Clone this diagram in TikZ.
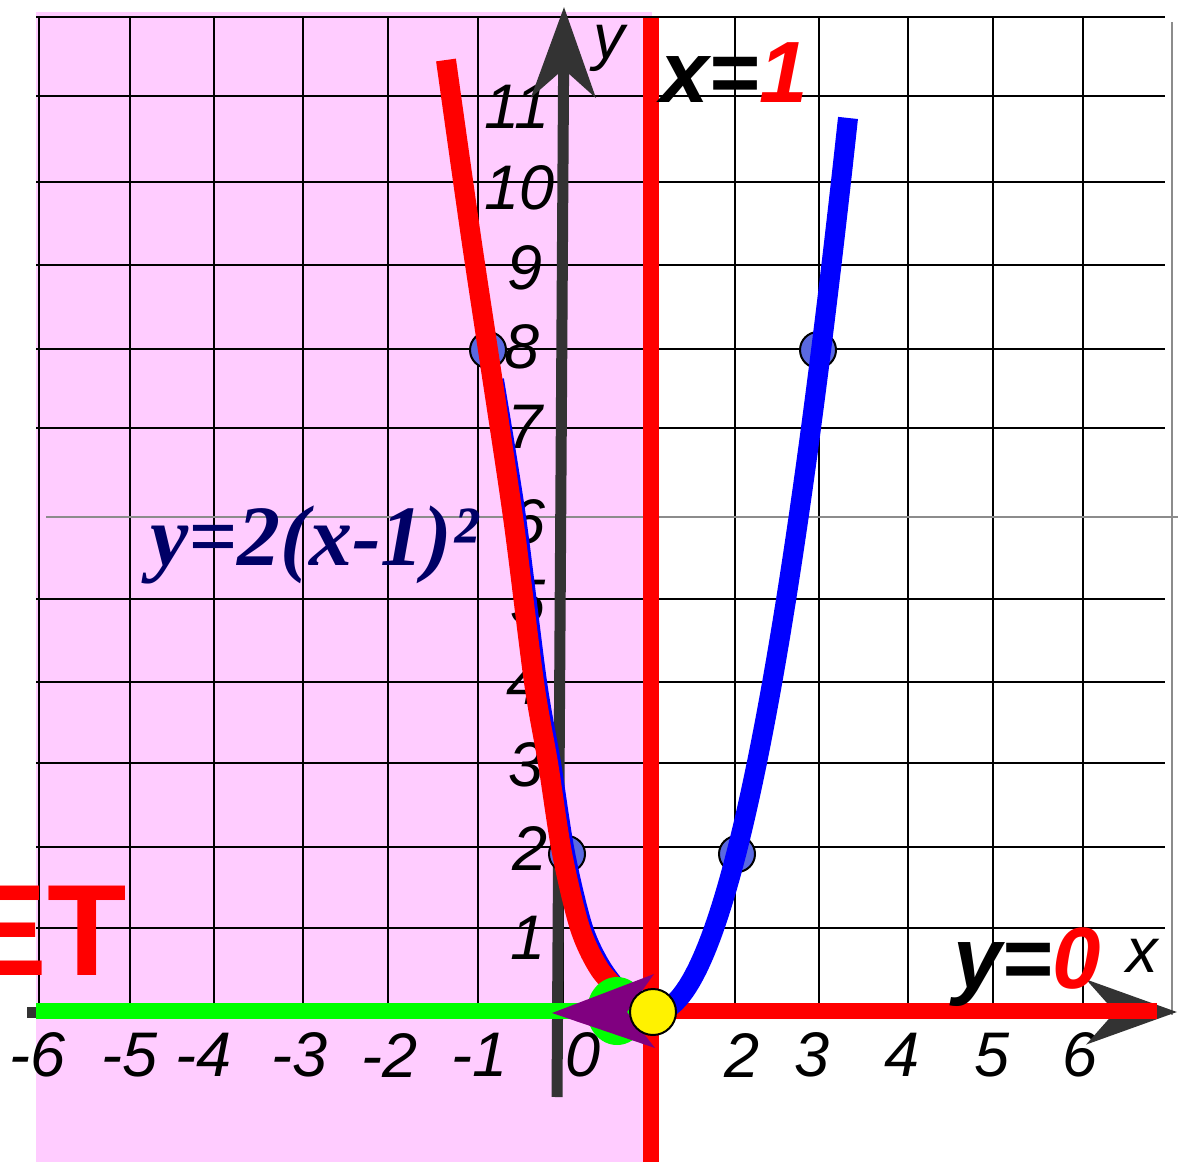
\documentclass[tikz,border=0pt]{standalone}
\usepackage{fontspec}
\setmainfont{Liberation Sans}
\newfontfamily\timesfont{Liberation Serif}
\usetikzlibrary{arrows.meta}
\definecolor{pinkbg}{RGB}{255,204,255}
\definecolor{axisgray}{RGB}{51,51,51}
\definecolor{dotblue}{RGB}{90,105,225}
\definecolor{navy}{RGB}{0,0,102}
\definecolor{faintgray}{RGB}{140,140,140}
\definecolor{plum}{RGB}{128,0,128}
\tikzset{
    gridline/.style={black, line width=2.5pt}, % square grid
    faintline/.style={faintgray, line width=2pt},
    axisline/.style={axisgray, line width=11pt, -{Stealth[length=90pt, width=64pt, inset=28pt]}},
    thickline/.style={line width=16pt},
    curve/.style={line width=20pt},
    ticklabel/.style={inner sep=0pt, font=\fontsize{63}{63}\selectfont\itshape},
    biglabel/.style={inner sep=0pt, font=\fontsize{87}{87}\selectfont\bfseries\itshape},
    ptdot/.style={circle, fill=dotblue, draw=black, line width=2pt, minimum size=36pt, inner sep=0pt},
}

\begin{document}
\begin{tikzpicture}[x=1pt, y=-1pt]
  \useasboundingbox (0,0) rectangle (1178,1162);
  \clip (0,0) rectangle (1178,1162);
  \fill[pinkbg] (36,12) rectangle (652,1162);

  \foreach \gx in {39,130,214,303,388,478,563,650,735,819,908,993,1083}
    \draw[gridline] (\gx,17) -- (\gx,1012);
  \foreach \gy in {17,96,182,265,349,428,599,682,763,847,928}
    \draw[gridline] (36,\gy) -- (1165,\gy);
  \draw[faintline] (46,517) -- (1178,517);
  \draw[faintline] (1172,22) -- (1172,1015);

  \foreach \v/\px/\py in {11/517/107, 10/520/188, 9/525/268, 8/522/347, 7/525/427, 6/528/522,
                          5/528/602, 4/524/683, 3/526/765, 2/530/848, 1/528/938}
    \node[ticklabel] (yt\v) at (\px,\py) {\v};
  \foreach \v/\px in {-6/38, -5/130, -4/204, -3/300, -2/390, -1/480, 0/583, 2/742, 3/812, 4/902, 5/992, 6/1080}
    \node[ticklabel] (xt\v) at (\px,1055) {\v};

  \coordinate (ybot) at (557,1097);
  \coordinate (ytip) at (564,7);
  \coordinate (xleft) at (27,1012);
  \coordinate (xtip) at (1177,1012);
  \draw[axisline] (ybot) -- (ytip);
  \draw[axisline] (xleft) -- (xtip);

  \coordinate (gleft) at (36,1011);
  \coordinate (gright) at (625,1011);
  \coordinate (rleft) at (652,1011);
  \coordinate (rright) at (1157,1011);
  \coordinate (vtop) at (650.5,18);
  \coordinate (vbot) at (650.5,1162);
  \draw[thickline, green] (gleft) -- (gright);
  \draw[thickline, red] (rleft) -- (rright);
  \draw[thickline, red] (vtop) -- (vbot);

  \node[ptdot] (p1) at (488,350) {};
  \node[ptdot] (p2) at (567,854) {};
  \node[ptdot] (p3) at (737,854) {};
  \node[ptdot] (p4) at (818,350) {};

  \draw[curve, blue] plot[smooth] coordinates {(494,380) (516,517) (537,682) (551,763) (565,853)
    (583,928) (603,970) (630,1002) (655,1012)};
  \draw[curve, blue] plot[domain=0:193, samples=60] ({655+\x}, {1012-0.024*\x*\x});
  \draw[curve, red] plot[smooth] coordinates {(446,60) (470,230) (488,350) (513,517) (534,682)
    (548,763) (562,853) (580,928) (600,970) (628,1000)};

  \fill[green] (617,1011) ellipse [x radius=30pt, y radius=34pt];
  \fill[plum] (552,1013) -- (654,974) -- (627,1012) -- (655,1048) -- cycle;
  \node[circle, fill=yellow, draw=black, line width=2pt, minimum size=46pt, inner sep=0pt] (vx) at (653,1012) {};

  \node[ticklabel, anchor=base] (ylab) at (609,58) {y};
  \node[ticklabel, anchor=base] (xlab) at (1142,972) {x};
  \node[biglabel, anchor=base west] (eq1) at (660,102) {x=\textcolor{red}{1}};
  \node[biglabel, anchor=base west] (eq0) at (953,988) {y=\textcolor{red}{0}};
  \node[inner sep=0pt, anchor=base west, text=navy, font=\fontsize{86}{86}\selectfont\timesfont\bfseries\itshape] (eqf) at (150,565) {y=2(x-1)²};
  \node[inner sep=0pt, anchor=base east, text=red, font=\fontsize{130}{130}\selectfont\bfseries] (no) at (127,975) {ET};
\end{tikzpicture}
\end{document}
